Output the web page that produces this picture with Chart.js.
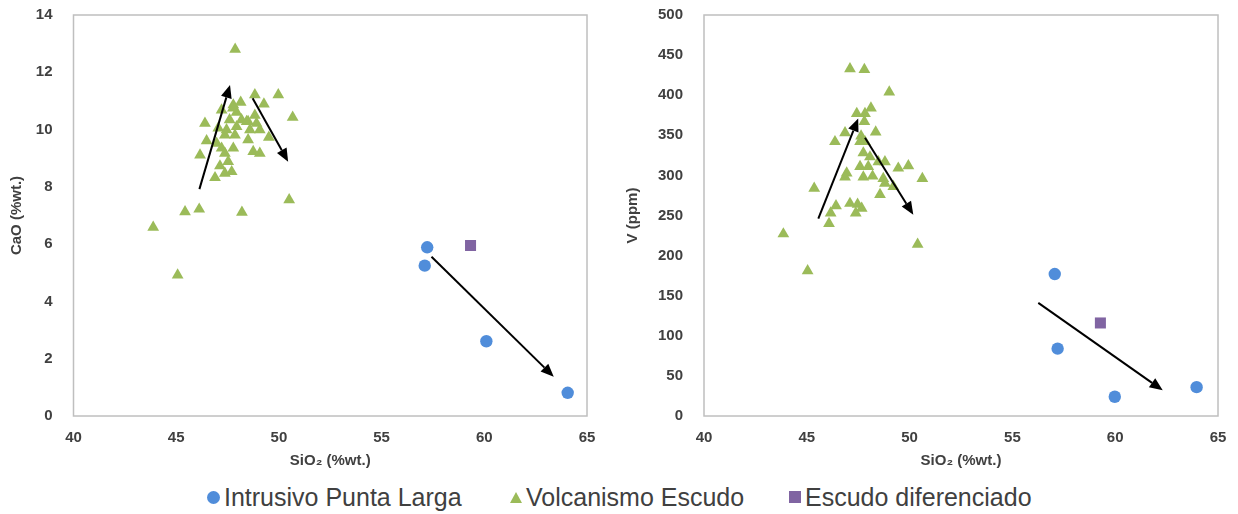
<!DOCTYPE html>
<html>
<head>
<meta charset="utf-8">
<script src="https://cdn.jsdelivr.net/npm/chart.js@4/dist/chart.umd.min.js"></script>
<style>
  body { margin: 0; background: #fff; width: 1238px; height: 514px; position: relative; overflow: hidden; }
  .panel { position: absolute; top: 0; width: 619px; height: 472px; }
  #leyenda { position: absolute; top: 482px; left: 0; width: 1238px; height: 32px;
             font-family: "Liberation Sans", Arial, sans-serif; font-size: 25px; color: #404040; }
  .item { position: absolute; top: 0; display: flex; align-items: center; height: 30px; white-space: nowrap; }
  .mk { display: inline-block; margin-right: 4px; }
  .circ { width: 13px; height: 13px; border-radius: 50%; background: #508DDA; }
  .tri { width: 0; height: 0; border-left: 6px solid transparent; border-right: 6px solid transparent; border-bottom: 11px solid #9BBB59; }
  .sq { width: 12px; height: 12px; background: #8064A2; }
</style>
</head>
<body>
<div class="panel" style="left:0"><canvas id="graficoCaO"></canvas></div>
<div class="panel" style="left:619px"><canvas id="graficoV"></canvas></div>
<div id="leyenda">
  <div class="item" style="left:207px"><span class="mk circ"></span>Intrusivo Punta Larga</div>
  <div class="item" style="left:510px"><span class="mk tri"></span>Volcanismo Escudo</div>
  <div class="item" style="left:789px"><span class="mk sq"></span>Escudo diferenciado</div>
</div>
<script>
// --- CaO vs SiO2 ---
const intrusivoSiO2_a = [57.22, 57.1, 60.1, 64.06];
const intrusivoCaO = [5.89, 5.25, 2.61, 0.81];

const volcanSiO2_a = [47.87, 48.83, 49.97, 50.67, 49.27, 47.78, 48.14, 47.21, 47.94, 46.4,
  48.83, 48.5, 48.91, 48.59, 49.07, 47.05, 46.48, 47.37, 47.86, 48.5,
  49.51, 46.97, 47.78, 46.16, 47.21, 48.75, 49.07, 47.37, 47.53, 47.13,
  47.7, 47.37, 46.89, 47.76, 48.18, 47.6, 47.94, 47.45, 48.43, 50.5,
  43.88, 45.07, 45.43, 46.12, 48.2];
const volcanCaO = [12.8, 11.21, 11.21, 10.43, 10.89, 10.86, 10.95, 10.68, 10.6, 10.22,
  10.5, 10.28, 10.22, 9.99, 9.99, 10.05, 9.61, 9.81, 9.81, 9.64,
  9.73, 9.52, 9.35, 9.11, 9.35, 9.23, 9.17, 9.17, 8.88, 8.73,
  8.53, 8.47, 8.32, 10.75, 10.34, 10.34, 10.1, 9.99, 10.28, 7.55,
  6.59, 4.92, 7.13, 7.22, 7.11];

const difSiO2_a = [59.33];
const difCaO = [5.95];

// flechas de tendencia [x0, y0, x1, y1] en unidades de datos
const flechasCaO = [
  [46.13, 7.92, 47.62, 11.56],
  [48.72, 11.09, 50.45, 8.88],
  [57.43, 5.56, 63.38, 1.37]
];

// --- V vs SiO2 ---
const intrusivoSiO2_b = [57.06, 57.2, 59.98, 63.96];
const intrusivoV = [177, 84, 24, 36];

const volcanSiO2_b = [47.1, 47.8, 49.01, 48.12, 47.43, 47.83, 47.8, 48.35, 46.86, 46.37,
  47.64, 47.59, 47.83, 47.75, 48.07, 48.8, 48.48, 47.59, 47.99, 49.45,
  49.94, 46.94, 46.86, 47.75, 48.2, 48.72, 48.8, 49.21, 50.62, 45.36,
  48.56, 46.42, 47.1, 47.47, 47.67, 46.16, 47.38, 46.08, 43.86, 50.39,
  45.04];
const volcanV = [433, 432, 404, 384, 377, 377, 367, 354, 353, 342,
  349, 342, 342, 328, 323, 317, 317, 311, 311, 309,
  312, 303, 298, 298, 299, 296, 290, 286, 296, 284,
  276, 262, 265, 264, 259, 253, 253, 240, 227, 214,
  181];

const difSiO2_b = [59.28];
const difV = [116];

const flechasV = [
  [45.56, 246, 47.5, 371],
  [47.83, 347, 50.18, 251],
  [56.26, 141, 62.31, 32]
];

const AZUL = '#508DDA', VERDE = '#9BBB59', MORADO = '#8064A2';

function puntos(xs, ys) {
  return xs.map((x, i) => ({ x: x, y: ys[i] }));
}

function flecha(ctx, x0, y0, x1, y1) {
  const ang = Math.atan2(y1 - y0, x1 - x0);
  const L = 13, W = 5.5;
  const bx = x1 - L * Math.cos(ang), by = y1 - L * Math.sin(ang);
  ctx.beginPath();
  ctx.moveTo(x0, y0);
  ctx.lineTo(bx, by);
  ctx.stroke();
  ctx.beginPath();
  ctx.moveTo(x1, y1);
  ctx.lineTo(bx + W * Math.sin(ang), by - W * Math.cos(ang));
  ctx.lineTo(bx - W * Math.sin(ang), by + W * Math.cos(ang));
  ctx.closePath();
  ctx.fill();
}

// marco del área de trazado y flechas
const extras = {
  id: 'extras',
  beforeDatasetsDraw(chart) {
    const a = chart.chartArea, ctx = chart.ctx;
    ctx.save();
    ctx.strokeStyle = '#BFBFBF';
    ctx.lineWidth = 1.5;
    ctx.strokeRect(a.left, a.top, a.right - a.left, a.bottom - a.top);
    ctx.restore();
  },
  afterDatasetsDraw(chart, args, opts) {
    const ctx = chart.ctx, sx = chart.scales.x, sy = chart.scales.y;
    ctx.save();
    ctx.strokeStyle = '#000';
    ctx.fillStyle = '#000';
    ctx.lineWidth = 2;
    (opts.flechas || []).forEach(f => {
      flecha(ctx, sx.getPixelForValue(f[0]), sy.getPixelForValue(f[1]),
                  sx.getPixelForValue(f[2]), sy.getPixelForValue(f[3]));
    });
    ctx.restore();
  }
};

const fuenteTick = { family: '"Liberation Sans", Arial, sans-serif', size: 15, weight: 'bold' };

function crearGrafico(id, cfg) {
  new Chart(document.getElementById(id), {
    type: 'scatter',
    data: {
      datasets: [
        { label: 'Intrusivo Punta Larga', data: cfg.intrusivo, pointStyle: 'circle', pointRadius: 6.2,
          backgroundColor: AZUL, borderColor: AZUL, borderWidth: 0 },
        { label: 'Volcanismo Escudo', data: cfg.volcan, pointStyle: 'triangle', pointRadius: 6.8,
          backgroundColor: VERDE, borderColor: VERDE, borderWidth: 0 },
        { label: 'Escudo diferenciado', data: cfg.dif, pointStyle: 'rect', pointRadius: 7.8,
          backgroundColor: MORADO, borderColor: MORADO, borderWidth: 0 }
      ]
    },
    plugins: [extras],
    options: {
      responsive: true,
      maintainAspectRatio: false,
      animation: false,
      layout: { padding: { top: 15, right: cfg.derecha, left: 0, bottom: 0 } },
      plugins: {
        legend: { display: false },
        tooltip: { enabled: false },
        extras: { flechas: cfg.flechas }
      },
      scales: {
        x: {
          type: 'linear', min: 40, max: 65,
          grid: { display: false },
          border: { display: false },
          ticks: { stepSize: 5, font: fuenteTick, color: '#404040', padding: 5 },
          title: { display: true, text: 'SiO₂ (%wt.)', font: fuenteTick, color: '#404040',
                   padding: { top: 4, bottom: 2 } },
          afterFit: s => { s.height = 56; s.paddingLeft = 0; s.paddingRight = 0; }
        },
        y: {
          min: 0, max: cfg.ymax,
          grid: { display: false },
          border: { display: false },
          ticks: { stepSize: cfg.paso, font: fuenteTick, color: '#404040', padding: 13 },
          title: { display: true, text: cfg.titulo, font: fuenteTick, color: '#404040',
                   padding: { top: cfg.tituloPad, bottom: 0 } },
          afterFit: s => { s.width = cfg.ancho; s.paddingTop = 0; s.paddingBottom = 0; }
        }
      }
    }
  });
}

crearGrafico('graficoCaO', {
  intrusivo: puntos(intrusivoSiO2_a, intrusivoCaO),
  volcan: puntos(volcanSiO2_a, volcanCaO),
  dif: puntos(difSiO2_a, difCaO),
  flechas: flechasCaO,
  ymax: 14, paso: 2, titulo: 'CaO (%wt.)', tituloPad: 8, ancho: 73.5, derecha: 32
});

crearGrafico('graficoV', {
  intrusivo: puntos(intrusivoSiO2_b, intrusivoV),
  volcan: puntos(volcanSiO2_b, volcanV),
  dif: puntos(difSiO2_b, difV),
  flechas: flechasV,
  ymax: 500, paso: 50, titulo: 'V (ppm)', tituloPad: 5, ancho: 85, derecha: 20
});
</script>
</body>
</html>
